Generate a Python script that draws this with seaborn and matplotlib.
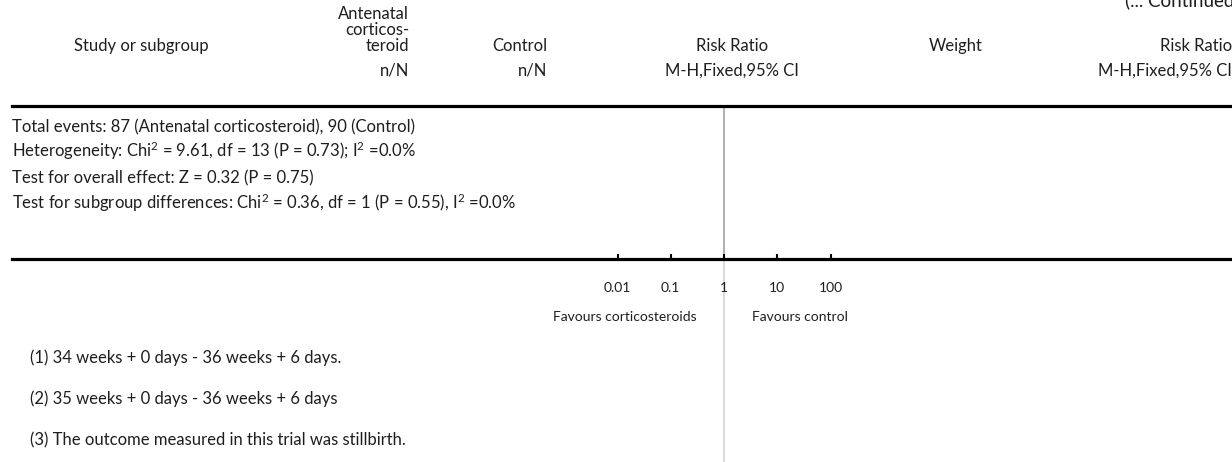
import matplotlib
matplotlib.use("Agg")
import matplotlib.pyplot as plt
import seaborn as sns

# ---- content -------------------------------------------------------------
continued_label = "(... Continued)"
col_study = "Study or subgroup"
col_treat = ["Antenatal", "corticos-", "teroid"]
col_control = "Control"
col_nN = "n/N"
col_rr = "Risk Ratio"
col_method = "M-H,Fixed,95% CI"
col_weight = "Weight"

summary_lines = [
    "Total events: 87 (Antenatal corticosteroid), 90 (Control)",
    "Heterogeneity: Chi$^{2}$ = 9.61, df = 13 (P = 0.73); I$^{2}$ =0.0%",
    "Test for overall effect: Z = 0.32 (P = 0.75)",
    "Test for subgroup differences: Chi$^{2}$ = 0.36, df = 1 (P = 0.55), I$^{2}$ =0.0%",
]

axis_ticks = [0.01, 0.1, 1, 10, 100]
axis_tick_labels = ["0.01", "0.1", "1", "10", "100"]
favours_left = "Favours corticosteroids"
favours_right = "Favours control"
null_effect = 1

footnotes = [
    "(1) 34 weeks + 0 days - 36 weeks + 6 days.",
    "(2) 35 weeks + 0 days - 36 weeks + 6 days",
    "(3) The outcome measured in this trial was stillbirth.",
]

# ---- figure --------------------------------------------------------------
W, H = 1232, 462
sns.set_theme(style="white")
plt.rcParams["font.family"] = ["Lato", "DejaVu Sans"]
plt.rcParams["mathtext.fontset"] = "custom"
plt.rcParams["mathtext.rm"] = "Lato"
plt.rcParams["mathtext.it"] = "Lato:italic"
plt.rcParams["mathtext.bf"] = "Lato:bold"
INK = "#1e1e1e"
plt.rcParams["text.color"] = INK
FS = 12        # table text
FS_AX = 10     # axis labels
TXT = dict(fontsize=FS)

fig = plt.figure(figsize=(W / 100, H / 100), dpi=100)


def fx(x):
    return x / W


def fy(y):
    return 1 - y / H


# forest-plot axis region (pixel extents of the two rules)
x0, x1 = 12, W
y_top, y_bot = 105.5, 258.5
ax = fig.add_axes([fx(x0), fy(y_bot), (x1 - x0) / W, (y_bot - y_top) / H])
ax.set_xscale("log")
px_per_decade = 53.25
x_null = 724
ax.set_xlim(10 ** ((x0 - x_null) / px_per_decade), 10 ** ((x1 - x_null) / px_per_decade))
ax.set_ylim(0, 1)
ax.set_yticks([])
ax.set_facecolor("none")
sns.despine(ax=ax, left=True, right=True, top=False, bottom=False)
for side in ("top", "bottom"):
    ax.spines[side].set_linewidth(2.3)
    ax.spines[side].set_color("black")

ax.set_xticks(axis_ticks)
ax.set_xticklabels(axis_tick_labels, fontsize=FS_AX, color=INK)
ax.xaxis.set_minor_locator(matplotlib.ticker.NullLocator())
ax.tick_params(axis="x", which="major", direction="in", length=3.8, width=1.5,
               color="black", pad=17, bottom=True, top=False)

# line of no effect
ax.axvline(null_effect, ymin=0, ymax=1, color="#9a9a9a", lw=1.1, zorder=0)
ax.axvline(null_effect, ymin=-(H - y_bot) / (y_bot - y_top), ymax=0,
           color="#cfcfcf", lw=1.1, clip_on=False, zorder=0)

ax.annotate(favours_left, xy=(null_effect, 0), xycoords=("data", "axes fraction"),
            xytext=(-27, -58.5), textcoords="offset pixels", ha="right", va="center",
            fontsize=FS_AX)
ax.annotate(favours_right, xy=(null_effect, 0), xycoords=("data", "axes fraction"),
            xytext=(28, -58.5), textcoords="offset pixels", ha="left", va="center",
            fontsize=FS_AX)

# ---- header --------------------------------------------------------------
fig.text(fx(1125), fy(6), continued_label, ha="left", va="baseline", fontsize=13.5)
fig.text(fx(141), fy(46), col_study, ha="center", va="center", **TXT)
for i, line in enumerate(col_treat):
    fig.text(fx(409), fy(14 + 16 * i), line, ha="right", va="center", **TXT)
fig.text(fx(547), fy(46), col_control, ha="right", va="center", **TXT)
fig.text(fx(409), fy(71), col_nN, ha="right", va="center", **TXT)
fig.text(fx(547), fy(71), col_nN, ha="right", va="center", **TXT)
fig.text(fx(732), fy(46), col_rr, ha="center", va="center", **TXT)
fig.text(fx(732), fy(71), col_method, ha="center", va="center", **TXT)
fig.text(fx(956), fy(46), col_weight, ha="center", va="center", **TXT)
fig.text(fx(1232), fy(46), col_rr, ha="right", va="center", **TXT)
fig.text(fx(1232), fy(71), col_method, ha="right", va="center", **TXT)

# ---- summary statistics ---------------------------------------------------
for i, line in enumerate(summary_lines):
    fig.text(fx(12), fy(132 + 25.5 * i), line, ha="left", va="baseline", **TXT)

# ---- footnotes -----------------------------------------------------------
for i, line in enumerate(footnotes):
    fig.text(fx(30), fy(358 + 41 * i), line, ha="left", va="center", **TXT)

fig.savefig("out.png", dpi=100)
